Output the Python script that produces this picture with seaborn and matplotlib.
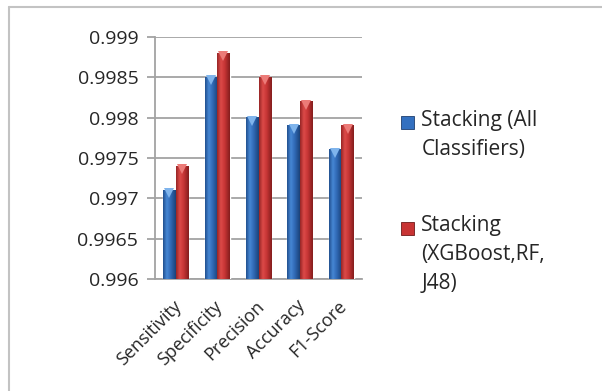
import numpy as np
import pandas as pd
import matplotlib
matplotlib.use("Agg")
import matplotlib.pyplot as plt
import matplotlib.transforms as mtransforms
from matplotlib.colors import LinearSegmentedColormap
from matplotlib.patches import Patch
from matplotlib.lines import Line2D
import seaborn as sns

# Data
metrics = ["Sensitivity", "Specificity", "Precision", "Accuracy", "F1-Score"]
stacking_all = [0.9971, 0.9985, 0.9980, 0.9979, 0.9976]
stacking_xgb_rf_j48 = [0.9974, 0.9988, 0.9985, 0.9982, 0.9979]
series_names = ["Stacking (All\nClassifiers)", "Stacking\n(XGBoost,RF,\nJ48)"]
y_ticks = [0.996, 0.9965, 0.997, 0.9975, 0.998, 0.9985, 0.999]
y_tick_labels = ["0.996", "0.9965", "0.997", "0.9975", "0.998", "0.9985", "0.999"]

df = pd.DataFrame({
    "metric": metrics * 2,
    "value": stacking_all + stacking_xgb_rf_j48,
    "series": [series_names[0]] * len(metrics) + [series_names[1]] * len(metrics),
})

sns.set_theme(style="white")
plt.rcParams["font.family"] = ["Open Sans", "DejaVu Sans"]

GRID = "#a3a3a3"
TEXT = "#262626"
base_colors = {series_names[0]: "#3370c0", series_names[1]: "#c83434"}
shade_maps = {
    series_names[0]: LinearSegmentedColormap.from_list(
        "blue_bar", [(0.0, "#214f8e"), (0.3, "#4687d4"), (0.6, "#3069b5"), (1.0, "#1b4278")]),
    series_names[1]: LinearSegmentedColormap.from_list(
        "red_bar", [(0.0, "#962525"), (0.3, "#dc4a48"), (0.6, "#c63535"), (1.0, "#831d1d")]),
}
bevel_colors = {series_names[0]: "#7fb4ec", series_names[1]: "#ec7b78"}

fig = plt.figure(figsize=(6.02, 3.91), dpi=100)
ax = fig.add_axes([155 / 602, 1 - 279 / 391, 207 / 602, 242 / 391])

sns.barplot(data=df, x="metric", y="value", hue="series", palette=base_colors,
            width=0.6, gap=0, saturation=1, legend=False, ax=ax, zorder=3)

y_lo, y_hi = y_ticks[0], y_ticks[-1]

# Cylinder-like horizontal shading and a light bevel on top of each bar
grad = np.linspace(0, 1, 128).reshape(1, -1)
bevel_tf = mtransforms.offset_copy(ax.transData, fig=fig, y=-2.2, units="points")
bars = [p for p in ax.patches if p.get_height() > 0]
for bar in bars:
    fc = np.array(bar.get_facecolor())
    name = min(base_colors, key=lambda k: np.sum(np.abs(np.array(matplotlib.colors.to_rgba(base_colors[k])) - fc)))
    x0, w, top = bar.get_x(), bar.get_width(), bar.get_height()
    ax.imshow(grad, cmap=shade_maps[name], extent=[x0, x0 + w, y_lo, top],
              aspect="auto", interpolation="bilinear", zorder=3.5)
    ax.plot([x0 + w / 2], [top], marker="v", markersize=6.5, color=bevel_colors[name],
            markeredgewidth=0, transform=bevel_tf, zorder=4)

ax.set_xlim(-0.5, len(metrics) - 0.5)
ax.set_ylim(y_lo, y_hi)
ax.set_yticks(y_ticks)
ax.set_yticklabels(y_tick_labels)
ax.set_xlabel("")
ax.set_ylabel("")

ax.yaxis.grid(True, color=GRID, linewidth=1.3)
ax.set_axisbelow(True)
for side in ["top", "right"]:
    ax.spines[side].set_visible(False)
for side in ["left", "bottom"]:
    ax.spines[side].set_color(GRID)
    ax.spines[side].set_linewidth(1.3)

ax.set_xticks(np.arange(-0.5, len(metrics), 1.0), minor=True)
ax.tick_params(axis="x", which="major", length=0, pad=4, labelsize=13, labelcolor=TEXT)
ax.tick_params(axis="x", which="minor", length=6, width=1.3, color=GRID, direction="out")
ax.tick_params(axis="y", which="major", length=6, width=1.3, color=GRID, direction="out",
               left=True, pad=6, labelsize=14, labelcolor=TEXT)
for lbl in ax.get_xticklabels():
    lbl.set_rotation(45)
    lbl.set_ha("right")
    lbl.set_va("center")
    lbl.set_rotation_mode("anchor")
    lbl.set_transform(lbl.get_transform() + mtransforms.ScaledTranslation(2 / 72, -13.5 / 72, fig.dpi_scale_trans))

# Legend with square markers aligned to the first line of each label
handles = [Patch(facecolor=base_colors[n], edgecolor="#1f3f6f" if i == 0 else "#6f1a1a", linewidth=0.6)
           for i, n in enumerate(series_names)]
leg = ax.legend(handles, series_names, loc="upper left",
                bbox_to_anchor=(401 / 602, 1 - 110 / 391), bbox_transform=fig.transFigure,
                frameon=False, fontsize=15, handlelength=0.62, handleheight=0.62,
                handletextpad=0.36, labelspacing=2.65, borderpad=0, borderaxespad=0)
for t in leg.get_texts():
    t.set_color(TEXT)
    t.set_linespacing(1.5)

fig.canvas.draw()
renderer = fig.canvas.get_renderer()
for h, t in zip(leg.legend_handles, leg.get_texts()):
    tb = t.get_window_extent(renderer)
    nlines = t.get_text().count("\n") + 1
    line_px = tb.height / nlines
    target = tb.y1 - line_px / 2
    hb = h.get_window_extent(renderer)
    cur = (hb.y0 + hb.y1) / 2
    h.set_y(h.get_y() + (target - cur) * 72 / fig.dpi)

# Outer chart border (top and left edges)
fig.add_artist(Line2D([8.5 / 602, 1], [1 - 6.5 / 391] * 2, transform=fig.transFigure,
                      color="#c3c3c3", linewidth=1.5))
fig.add_artist(Line2D([8.5 / 602] * 2, [0, 1 - 6.5 / 391], transform=fig.transFigure,
                      color="#c3c3c3", linewidth=1.5))

fig.savefig("out.png", dpi=100)
